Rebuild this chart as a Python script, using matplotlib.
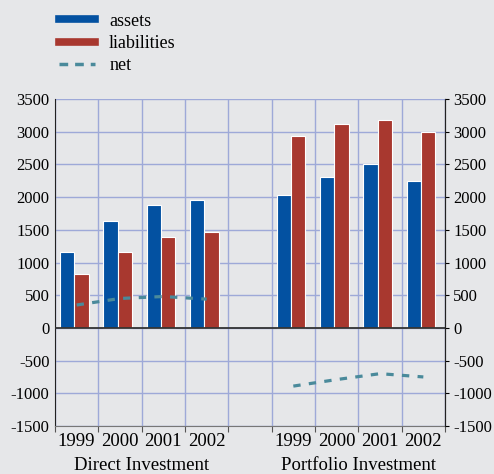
import numpy as np
import matplotlib
matplotlib.use("Agg")
import matplotlib.pyplot as plt
from matplotlib.lines import Line2D

plt.rcParams['font.family'] = ['Liberation Serif', 'DejaVu Serif']
plt.rcParams['axes.unicode_minus'] = False

# data
years = ['1999', '2000', '2001', '2002']
groups = ['Direct Investment', 'Portfolio Investment']
direct_assets = [1160, 1630, 1880, 1950]
direct_liab = [820, 1160, 1390, 1470]
direct_net = [350, 450, 480, 440]
portfolio_assets = [2030, 2310, 2500, 2250]
portfolio_liab = [2940, 3120, 3185, 3000]
portfolio_net = [-890, -790, -700, -750]

BG = '#e6e7e9'
BLUE = '#0351a1'
RED = '#a8382f'
TEAL = '#4a8a9b'
GRID = '#9ea9d8'
FS = 12
FSX = 13.5

fig = plt.figure(figsize=(4.94, 4.74), dpi=100, facecolor=BG)
ax = fig.add_axes([0.1113, 0.1013, 0.7895, 0.6898])
ax.set_facecolor(BG)

x_dir = np.arange(4)
x_port = np.arange(5, 9)
w = 0.33
for xs, a, l in [(x_dir, direct_assets, direct_liab), (x_port, portfolio_assets, portfolio_liab)]:
    ax.bar(xs - 0.22, a, width=w, color=BLUE, edgecolor='white', linewidth=0.8, zorder=3)
    ax.bar(xs + 0.11, l, width=w, color=RED, edgecolor='white', linewidth=0.8, zorder=3)

for xs, n in [(x_dir, direct_net), (x_port, portfolio_net)]:
    ax.plot(xs, n, color=TEAL, lw=2.3, dashes=(2.3, 2.6), zorder=4)

ax.axhline(0, color='#333333', lw=1.3, zorder=5)

ax.set_xlim(-0.5, 8.5)
ax.set_ylim(-1500, 3500)
yt = np.arange(-1500, 3501, 500)
ax.set_yticks(yt)
ax.set_yticklabels([str(v) for v in yt], fontsize=FS)

ax.set_xticks(np.arange(-0.5, 9, 1))
ax.set_xticklabels([])
ax.set_xticks(list(x_dir) + list(x_port), minor=True)
ax.set_xticklabels(years + years, minor=True, fontsize=FSX)
ax.tick_params(axis='x', which='major', length=4, direction='out', color='#555555')
ax.tick_params(axis='x', which='minor', length=0, pad=5)
ax.tick_params(axis='y', length=0, pad=4)

ax.grid(True, which='major', color=GRID, lw=1.0, zorder=0)
ax.set_axisbelow(True)

ax.spines['top'].set_visible(False)
ax.spines['left'].set_color('#222222')
ax.spines['right'].set_color('#222222')
ax.spines['bottom'].set_color('#777777')

ax2 = ax.twinx()
ax2.set_ylim(-1500, 3500)
ax2.set_yticks(yt)
ax2.set_yticklabels([str(v) for v in yt], fontsize=FS)
ax2.tick_params(axis='y', length=3, pad=3)
for s in ['top', 'left', 'bottom']:
    ax2.spines[s].set_visible(False)
ax2.spines['right'].set_color('#222222')

fig.text((55 + 228) / 2 / 494, 1 - 466 / 474, groups[0], fontsize=FSX, ha='center', va='center')
fig.text((272 + 445) / 2 / 494, 1 - 466 / 474, groups[1], fontsize=FSX, ha='center', va='center')

handles = [Line2D([0], [0], color=BLUE, lw=5.5),
           Line2D([0], [0], color=RED, lw=5.5),
           Line2D([0], [0], color=TEAL, lw=2.5, dashes=(2.5, 2.0))]
fig.legend(handles, ['assets', 'liabilities', 'net'], loc='upper left',
           bbox_to_anchor=(0.093, 1.0), frameon=False, fontsize=13,
           handlelength=2.0, handletextpad=0.8, labelspacing=0.3, borderpad=0.2)

fig.savefig('out.png', dpi=100, facecolor=BG)
